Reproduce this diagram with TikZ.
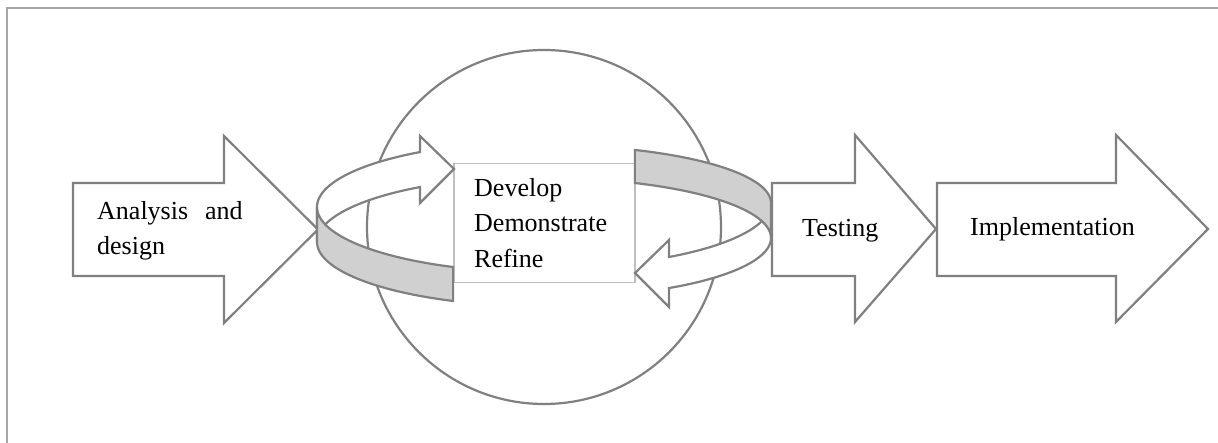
\documentclass[tikz,border=0pt]{standalone}
\usepackage{fontspec}
\setmainfont{Liberation Serif}
\definecolor{lineg}{RGB}{128,128,128}
\definecolor{ribg}{RGB}{208,208,208}
\definecolor{boxg}{RGB}{191,191,191}
\definecolor{frameg}{RGB}{166,166,166}
\begin{document}
\begin{tikzpicture}[x=1pt,y=-1pt,
  shapeline/.style={draw=lineg,line width=2.2pt,line join=miter},
  blockarrow/.style={shapeline,fill=white},
  ribbonw/.style={shapeline,fill=white},
  ribbong/.style={shapeline,fill=ribg},
  lbl/.style={inner sep=0pt,anchor=base west,font=\fontsize{26}{35.5}\selectfont}]
\useasboundingbox (0,0) rectangle (1218,443);
% frame
\draw[draw=frameg,line width=2pt] (7,443) -- (7,8) -- (1218,8);
% circle
\node[circle,draw=lineg,line width=2.2pt,minimum size=354pt,inner sep=0pt] (cyc) at (544,227) {};
% block arrows
\draw[blockarrow] (73,183) -- (224,183) -- (224,136) -- (318,229.5) -- (224,323) -- (224,276) -- (73,276) -- cycle;
\draw[blockarrow] (772,183) -- (855,183) -- (855,135) -- (936,229) -- (855,322) -- (855,276) -- (772,276) -- cycle;
\draw[blockarrow] (937,183) -- (1116,183) -- (1116,135) -- (1208,229) -- (1116,322) -- (1116,276) -- (937,276) -- cycle;
% centre box
\node[draw=boxg,line width=1.5pt,fill=white,minimum width=181pt,minimum height=119pt,inner sep=0pt,anchor=north west] (ddr) at (453,163) {};
% ribbon: top-left white arrow
\draw[ribbonw] plot[domain=180:236.9,samples=40] ({544+227*cos(\x)},{207+65.6*sin(\x)})
  -- (420,136) -- (454,169) -- (420,203)
  -- plot[domain=236.9:180,samples=40] ({544+227*cos(\x)},{242+65.6*sin(\x)}) -- cycle;
% ribbon: lower-left gray band
\draw[ribbong] plot[domain=113.6:180,samples=40] ({544+227*cos(\x)},{207+65.5*sin(\x)})
  -- plot[domain=180:113.6,samples=40] ({544+227*cos(\x)},{242+64.4*sin(\x)}) -- cycle;
% ribbon: bottom-right white arrow
\draw[ribbonw] plot[domain=0:56.6,samples=40] ({544+227*cos(\x)},{203+64.7*sin(\x)})
  -- (669,240) -- (635,273) -- (669,307)
  -- plot[domain=56.6:0,samples=40] ({544+227*cos(\x)},{238+60*sin(\x)}) -- cycle;
% ribbon: top-right gray band
\draw[ribbong] plot[domain=293.6:360,samples=40] ({544+227*cos(\x)},{203+57.9*sin(\x)})
  -- plot[domain=360:293.6,samples=40] ({544+227*cos(\x)},{238+60*sin(\x)}) -- cycle;
% labels
\node[lbl] (ana1) at (97,220) {Analysis\hspace{17pt}and};
\node[lbl] (ana2) at (97,255) {design};
\node[lbl] (dev1) at (474,197) {Develop};
\node[lbl] (dev2) at (474,232) {Demonstrate};
\node[lbl] (dev3) at (474,268) {Refine};
\node[lbl] (test) at (802,237) {Testing};
\node[lbl] (impl) at (970,236) {Implementation};
\end{tikzpicture}
\end{document}
